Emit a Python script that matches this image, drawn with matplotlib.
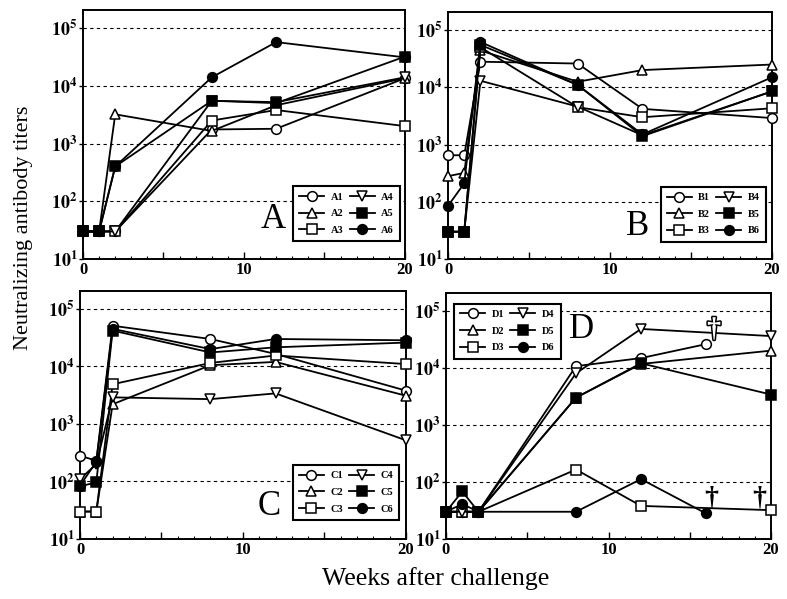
import matplotlib
matplotlib.use("Agg")
import matplotlib.pyplot as plt
import matplotlib.patheffects as pe
from matplotlib.ticker import FixedLocator, FuncFormatter, MultipleLocator, NullLocator

plt.rcParams['font.family'] = ['Liberation Serif', 'DejaVu Serif']
plt.rcParams['mathtext.fontset'] = 'stix'

# weeks after challenge
weeks = [0, 1, 2, 8, 12, 20]
weeks_d16 = [0, 1, 2, 8, 12, 16]

# panel A
A_names = ['A1', 'A2', 'A3', 'A4', 'A5', 'A6']
A1 = [30, 30, 30, 1750, 1800, 13500]
A2 = [30, 30, 3200, 1650, 4600, 13500]
A3 = [30, 30, 30, 2500, 3800, 2000]
A4 = [30, 30, 30, 5500, 5200, 14000]
A5 = [30, 30, 400, 5500, 5000, 32000]
A6 = [30, 30, 400, 14000, 57000, 31000]

# panel B
B_names = ['B1', 'B2', 'B3', 'B4', 'B5', 'B6']
B1 = [650, 650, 28000, 26000, 4200, 2900]
B2 = [280, 320, 44000, 12500, 20000, 25000]
B3 = [30, 30, 50000, 4500, 3000, 4300]
B4 = [30, 30, 13000, 4600, 1450, 8500]
B5 = [30, 30, 55000, 11000, 1400, 8500]
B6 = [85, 210, 62000, 11000, 1500, 15000]

# panel C
C_names = ['C1', 'C2', 'C3', 'C4', 'C5', 'C6']
C1 = [280, 230, 51000, 30000, 16500, 3800]
C2 = [30, 30, 2200, 10500, 12000, 3100]
C3 = [30, 30, 4900, 11500, 15500, 11000]
C4 = [110, 200, 2900, 2700, 3400, 520]
C5 = [82, 97, 42000, 17500, 21500, 26000]
C6 = [85, 220, 45000, 20000, 30000, 28500]

# panel D (D1 and D6 end at week 16)
D_names = ['D1', 'D2', 'D3', 'D4', 'D5', 'D6']
D1 = [30, 30, 30, 10700, 14800, 26000]
D2 = [30, 30, 30, 3000, 11700, 20000]
D3 = [30, 30, 30, 165, 38, 32]
D4 = [30, 30, 30, 8000, 48000, 36000]
D5 = [30, 68, 30, 3000, 12000, 3400]
D6 = [30, 41, 30, 30, 112, 28]
D_weeks = [weeks_d16, weeks, weeks, weeks, weeks, weeks_d16]

# death marks in panel D: (week, titer)
dagger_pts = [(16.35, 52), (19.3, 52)]
open_cross_pt = (16.5, 46000)

styles = [('o', 'white'), ('^', 'white'), ('s', 'white'),
          ('v', 'white'), ('s', 'black'), ('o', 'black')]

y_ticks = [1e1, 1e2, 1e3, 1e4, 1e5]
y_labels = [r'$\mathbf{10^{%d}}$' % i for i in range(1, 6)]


def draw_panel(ax, xs_list, ys_list, names, letter, leg_anchor, leg_loc, letter_pos):
    for xs, ys, name, (m, fc) in zip(xs_list, ys_list, names, styles):
        ax.plot(xs, ys, marker=m, color='black', mfc=fc, mec='black',
                ms=7, mew=1.1, lw=1.3, clip_on=False, label=name, zorder=3)

    ax.set_yscale('log')
    ax.set_ylim(10, 2.05e5)
    ax.set_xlim(0, 20)
    ax.yaxis.set_major_locator(FixedLocator(y_ticks))
    ax.yaxis.set_minor_locator(NullLocator())
    ax.set_yticklabels(y_labels, fontsize=13)
    for v in y_ticks[1:]:
        ax.axhline(v, color='black', lw=0.8, ls=(0, (3, 3)), zorder=1)

    ax.xaxis.set_major_locator(FixedLocator([0, 5, 10, 15, 20]))
    ax.xaxis.set_major_formatter(FuncFormatter(
        lambda v, p: '%d' % v if v in (0, 10, 20) else ''))
    ax.xaxis.set_minor_locator(MultipleLocator(1))
    ax.tick_params(axis='x', which='major', direction='in', length=5, width=1,
                   labelsize=12, pad=2)
    ax.tick_params(axis='x', which='minor', direction='in', length=2.5, width=0.8)
    ax.tick_params(axis='y', which='major', direction='out', length=3, width=1, pad=1)
    for lab in ax.get_xticklabels():
        lab.set_fontweight('bold')
    for sp in ax.spines.values():
        sp.set_linewidth(1.4)

    leg = ax.legend(ncol=2, loc=leg_loc, bbox_to_anchor=leg_anchor,
                    prop={'family': ['Liberation Serif'], 'weight': 'bold', 'size': 7.5},
                    fancybox=False, framealpha=1, edgecolor='black',
                    handlelength=2.4, handletextpad=0.6, columnspacing=0.6,
                    labelspacing=0.7, borderpad=0.6, borderaxespad=0)
    leg.get_frame().set_linewidth(1.5)
    leg.set_zorder(5)

    ax.text(letter_pos[0], letter_pos[1], letter, transform=ax.transAxes,
            fontsize=25, ha='center', va='center', zorder=6)


fig = plt.figure(figsize=(7.87, 5.99), dpi=100)
axA = fig.add_axes([0.1055, 0.5676, 0.409, 0.4157])
axB = fig.add_axes([0.5693, 0.5676, 0.4117, 0.412])
axC = fig.add_axes([0.1017, 0.1002, 0.414, 0.414])
axD = fig.add_axes([0.5667, 0.1002, 0.413, 0.4107])

draw_panel(axA, [weeks] * 6, [A1, A2, A3, A4, A5, A6], A_names, 'A',
           (0.984, 0.072), 'lower right', (0.59, 0.16))
draw_panel(axB, [weeks] * 6, [B1, B2, B3, B4, B5, B6], B_names, 'B',
           (0.981, 0.07), 'lower right', (0.586, 0.13))
draw_panel(axC, [weeks] * 6, [C1, C2, C3, C4, C5, C6], C_names, 'C',
           (0.98, 0.077), 'lower right', (0.58, 0.13))
draw_panel(axD, D_weeks, [D1, D2, D3, D4, D5, D6], D_names, 'D',
           (0.025, 0.957), 'upper left', (0.418, 0.85))

for x, y in dagger_pts:
    axD.text(x, y, '\u2020', fontsize=20, fontweight='bold', ha='center',
             va='center', zorder=6)
axD.text(open_cross_pt[0], open_cross_pt[1], '\u2020', fontsize=20,
         fontweight='bold', ha='center', va='center', color='white', zorder=6,
         path_effects=[pe.Stroke(linewidth=2.2, foreground='black'), pe.Normal()])

fig.text(0.03, 0.619, 'Neutralizing antibody titers', rotation=90,
         ha='center', va='center', fontsize=16)
fig.text(0.553, 0.035, 'Weeks after challenge', ha='center', va='center',
         fontsize=18.5)

fig.savefig('out.png', dpi=100)
